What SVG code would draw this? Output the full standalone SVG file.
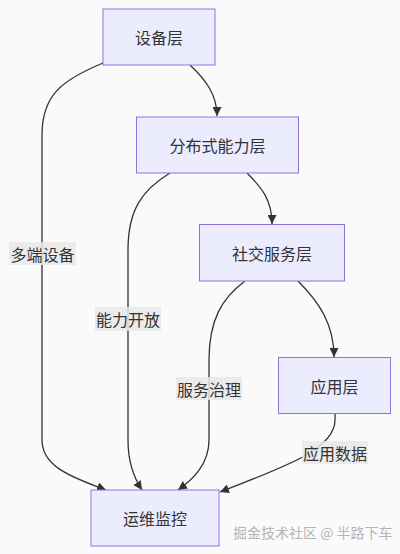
<svg xmlns="http://www.w3.org/2000/svg" width="400" height="554" viewBox="0 0 400 554">
<defs>
<style>
.node rect{fill:#ECECFF;stroke:#9370DB;stroke-width:1}
.node text{font-family:"Noto Sans CJK SC","Liberation Sans",sans-serif;font-size:16px;fill:#333;text-anchor:middle;dominant-baseline:central}
.edge{fill:none;stroke:#333;stroke-width:1.3}
.lbl rect{fill:#e8e8e8;opacity:0.85}
.lbl text{font-family:"Noto Sans CJK SC","Liberation Sans",sans-serif;font-size:16px;fill:#333;text-anchor:middle;dominant-baseline:central}
.wm{font-family:"Noto Sans CJK SC","Liberation Sans",sans-serif;font-size:14px;fill:#aaa;fill-opacity:0.9}
</style>
<marker id="arr" viewBox="0 0 10 10" refX="10" refY="5" markerUnits="userSpaceOnUse" markerWidth="9" markerHeight="9" orient="auto">
<path d="M0,0 L10,5 L0,10 z" fill="#333"/>
</marker>
</defs>
<rect width="400" height="554" fill="#fafafa"/>
<g id="connectors">
<path class="edge" marker-end="url(#arr)" d="M190,65 C206,80 217,95 217,116"/>
<path class="edge" marker-end="url(#arr)" d="M103,63 C62,80 42,95 42,135 L42,440 C42,468 75,478 106,490"/>
<path class="edge" marker-end="url(#arr)" d="M170,173 C142,190 128,210 128,250 L128,440 C128,463 134,478 142,490"/>
<path class="edge" marker-end="url(#arr)" d="M247,173 C262,188 272,200 272,224"/>
<path class="edge" marker-end="url(#arr)" d="M245,281 C222,298 209,320 209,360 L209,440 C209,465 192,480 178,490"/>
<path class="edge" marker-end="url(#arr)" d="M298,281 C320,303 334,325 334,357"/>
<path class="edge" marker-end="url(#arr)" d="M335,413 L335,420 C335,448 290,465 220,492"/>
</g>
<g id="label-duoduan" class="lbl"><rect x="9" y="242" width="67" height="23"/><text x="42.5" y="253.5">多端设备</text></g>
<g id="label-nengli" class="lbl"><rect x="95" y="307" width="66" height="24"/><text x="128" y="319">能力开放</text></g>
<g id="label-fuwu" class="lbl"><rect x="176" y="377" width="66" height="23"/><text x="209" y="388.5">服务治理</text></g>
<g id="label-yingyong" class="lbl"><rect x="302" y="441" width="66" height="23"/><text x="335" y="452.5">应用数据</text></g>
<g id="n-device" class="node"><rect x="103" y="9" width="112" height="56"/><text x="159" y="37">设备层</text></g>
<g id="n-dist" class="node"><rect x="136.5" y="117" width="162" height="56"/><text x="217.5" y="145">分布式能力层</text></g>
<g id="n-social" class="node"><rect x="199.5" y="224.5" width="145" height="56.5"/><text x="272" y="252.5">社交服务层</text></g>
<g id="n-app" class="node"><rect x="278.5" y="357.5" width="112" height="56"/><text x="334.5" y="385.5">应用层</text></g>
<g id="n-ops" class="node"><rect x="91" y="490" width="128" height="56"/><text x="155" y="518">运维监控</text></g>
<text class="wm" x="233" y="538">掘金技术社区 @ 半路下车</text>
</svg>
